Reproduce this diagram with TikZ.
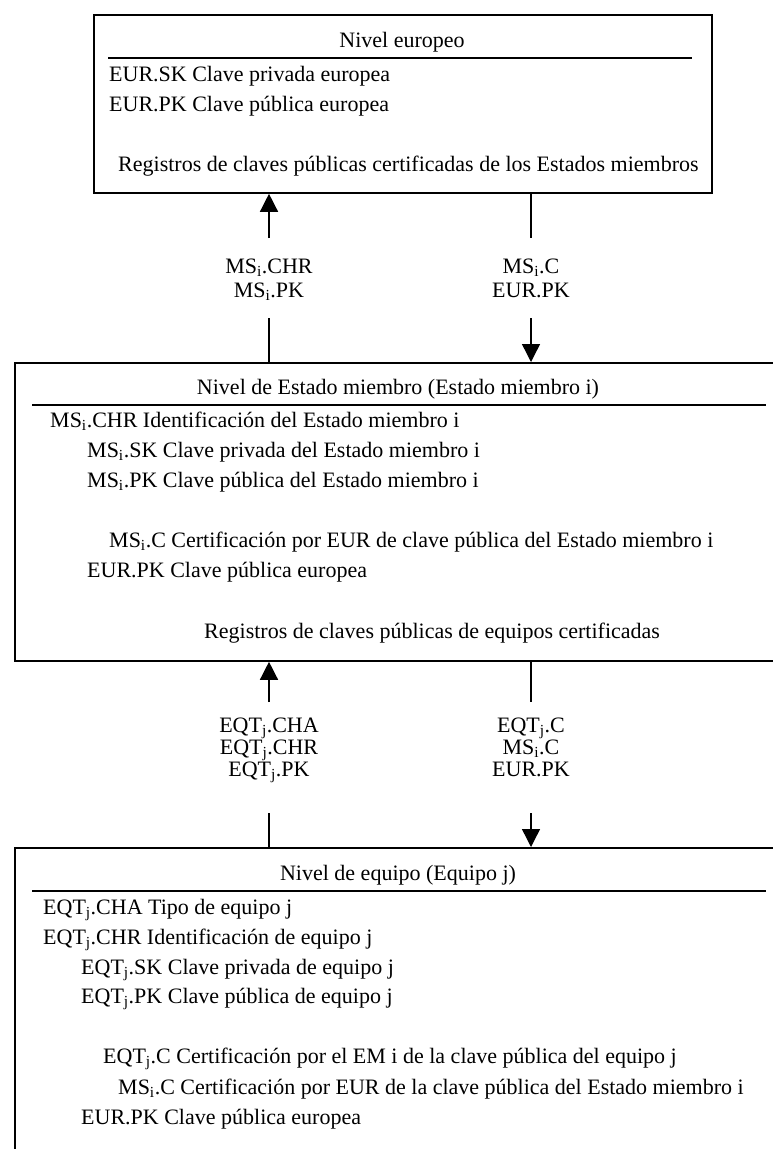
\documentclass[tikz,border=0pt]{standalone}
\usepackage{fontspec}
\setmainfont{Liberation Serif}
\usetikzlibrary{arrows.meta}
\newcommand{\sub}[1]{\textsubscript{#1}}
\begin{document}
\begin{tikzpicture}[x=1pt,y=-1pt,
  levelbox/.style={draw,line width=1.8pt,inner sep=0pt,anchor=north west},
  rule/.style={line width=1.6pt},
  txt/.style={inner sep=0pt,anchor=base west,font=\fontsize{22}{26}\selectfont},
  ttl/.style={inner sep=0pt,anchor=base,font=\fontsize{22}{26}\selectfont},
  lbl/.style={inner sep=0pt,anchor=base,font=\fontsize{22}{26}\selectfont},
  shaft/.style={line width=1.4pt},
  arr/.style={shaft,-{Triangle[width=18pt,length=18pt]}}]
\useasboundingbox (0,0) rectangle (773,1149);
\clip (0,0) rectangle (773,1149);

% European level
\node[levelbox,minimum width=618pt,minimum height=178pt] (eu) at (93,14) {};
\node[ttl] (euT) at (402,47) {Nivel europeo};
\draw[rule] (108,58) -- (692,58);
\node[txt] (eu1) at (109,81) {EUR.SK Clave privada europea};
\node[txt] (eu2) at (109,111) {EUR.PK Clave pública europea};
\node[txt] (eu3) at (118,171) {Registros de claves públicas certificadas de los Estados miembros};

% Member State level
\node[levelbox,minimum width=776pt,minimum height=298pt] (ms) at (14,362) {};
\node[ttl] (msT) at (398,394) {Nivel de Estado miembro (Estado miembro i)};
\draw[rule] (32,405) -- (766,405);
\node[txt] (ms1) at (50,427) {MS\sub{i}.CHR Identificación del Estado miembro i};
\node[txt] (ms2) at (87,457) {MS\sub{i}.SK Clave privada del Estado miembro i};
\node[txt] (ms3) at (87,487) {MS\sub{i}.PK Clave pública del Estado miembro i};
\node[txt] (ms4) at (109,547) {MS\sub{i}.C Certificación por EUR de clave pública del Estado miembro i};
\node[txt] (ms5) at (87,577) {EUR.PK Clave pública europea};
\node[txt] (ms6) at (204,638) {Registros de claves públicas de equipos certificadas};

% Equipment level
\node[levelbox,minimum width=776pt,minimum height=360pt] (eq) at (14,847) {};
\node[ttl] (eqT) at (398,880) {Nivel de equipo (Equipo j)};
\draw[rule] (32,891) -- (766,891);
\node[txt] (eq1) at (43,914) {EQT\sub{j}.CHA Tipo de equipo j};
\node[txt] (eq2) at (43,944) {EQT\sub{j}.CHR Identificación de equipo j};
\node[txt] (eq3) at (81,974) {EQT\sub{j}.SK Clave privada de equipo j};
\node[txt] (eq4) at (81,1003) {EQT\sub{j}.PK Clave pública de equipo j};
\node[txt] (eq5) at (103,1063) {EQT\sub{j}.C Certificación por el EM i de la clave pública del equipo j};
\node[txt] (eq6) at (118,1094) {MS\sub{i}.C Certificación por EUR de la clave pública del Estado miembro i};
\node[txt] (eq7) at (81,1124) {EUR.PK Clave pública europea};

% Exchanges between European and Member State levels
\node[lbl] (up1a) at (269,273) {MS\sub{i}.CHR};
\node[lbl] (up1b) at (269,297) {MS\sub{i}.PK};
\node[lbl] (dn1a) at (531,273) {MS\sub{i}.C};
\node[lbl] (dn1b) at (531,297) {EUR.PK};
\coordinate (up1top) at (269,238);
\coordinate (up1bot) at (269,318);
\coordinate (dn1top) at (531,238);
\coordinate (dn1bot) at (531,318);
\draw[arr] (up1top) -- (up1top |- eu.south);
\draw[shaft] (up1bot) -- (up1bot |- ms.north);
\draw[shaft] (dn1top |- eu.south) -- (dn1top);
\draw[arr] (dn1bot) -- (dn1bot |- ms.north);

% Exchanges between Member State and equipment levels
\node[lbl] (up2a) at (269,732) {EQT\sub{j}.CHA};
\node[lbl] (up2b) at (269,754) {EQT\sub{j}.CHR};
\node[lbl] (up2c) at (269,776) {EQT\sub{j}.PK};
\node[lbl] (dn2a) at (531,732) {EQT\sub{j}.C};
\node[lbl] (dn2b) at (531,754) {MS\sub{i}.C};
\node[lbl] (dn2c) at (531,776) {EUR.PK};
\coordinate (up2top) at (269,702);
\coordinate (up2bot) at (269,813);
\coordinate (dn2top) at (531,702);
\coordinate (dn2bot) at (531,813);
\draw[arr] (up2top) -- (up2top |- ms.south);
\draw[shaft] (up2bot) -- (up2bot |- eq.north);
\draw[shaft] (dn2top |- ms.south) -- (dn2top);
\draw[arr] (dn2bot) -- (dn2bot |- eq.north);
\end{tikzpicture}
\end{document}
